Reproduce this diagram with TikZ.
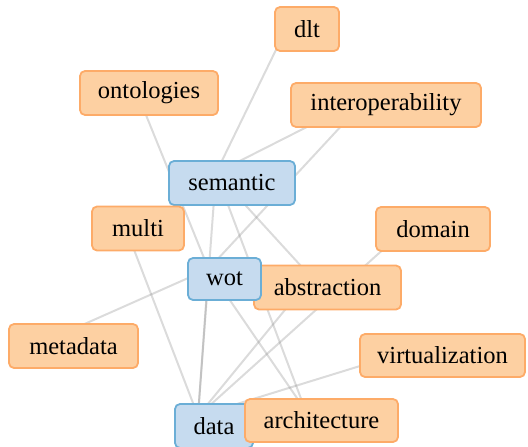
\documentclass[tikz,border=0pt]{standalone}
\usepackage{fontspec}
\setmainfont{Liberation Serif}
\usetikzlibrary{calc}
\pgfdeclarelayer{bg}
\pgfsetlayers{bg,main}

\definecolor{termfill}{RGB}{253,208,162}
\definecolor{termline}{RGB}{253,171,104}
\definecolor{hubfill}{RGB}{198,219,239}
\definecolor{hubline}{RGB}{107,174,214}
\definecolor{linkgray}{RGB}{136,136,136}

\tikzset{
  box/.style={rounded corners=5pt, line width=1.8pt, inner sep=0pt,
    minimum height=44pt, text=black,
    font=\fontsize{24.5}{29}\selectfont},
  termbox/.style={box, fill=termfill, draw=termline},
  hubbox/.style={box, fill=hubfill, draw=hubline},
  link/.style={draw=linkgray, line width=2pt, opacity=0.3}
}

\begin{document}
\begin{tikzpicture}[x=1pt, y=-1pt]
  \useasboundingbox (0,0) rectangle (528,447);

  % labels (later ones are drawn over earlier ones)
  \node[termbox, minimum width=64pt]  (dlt)            at (307,29)    {dlt};
  \node[termbox, minimum width=138pt] (ontologies)     at (149,93)    {ontologies};
  \node[termbox, minimum width=190pt] (interoperability) at (386,105) {interoperability};
  \node[hubbox,  minimum width=126pt] (semantic)       at (232,183)   {semantic};
  \node[termbox, minimum width=92pt]  (multi)          at (138,228.5) {multi};
  \node[termbox, minimum width=114pt] (domain)         at (433,229)   {domain};
  \node[termbox, minimum width=147pt] (abstraction)    at (327.5,287.5) {abstraction};
  \node[hubbox,  minimum width=73pt, minimum height=42pt] (wot) at (224.5,279) {wot};
  \node[termbox, minimum width=129pt] (metadata)       at (73.5,346)  {metadata};
  \node[termbox, minimum width=165pt, minimum height=43pt] (virtualization) at (442.5,355.5) {virtualization};
  \node[hubbox,  minimum width=78pt]  (data)           at (214,426)   {data};
  \node[termbox, minimum width=153pt, minimum height=43pt] (architecture) at (321.5,420.5) {architecture};

  % each label sits a little below and right of its graph point
  \foreach \n in {dlt,ontologies,interoperability,semantic,multi,domain,
                  abstraction,wot,metadata,virtualization,data,architecture}
    \coordinate (\n-p) at ([shift={(-16pt,10pt)}]\n.center);

  \begin{pgfonlayer}{bg}
    \draw[link] (dlt-p) -- (semantic-p);
    \draw[link] (interoperability-p) -- (semantic-p);
    \draw[link] (interoperability-p) -- (wot-p);
    \draw[link] (ontologies-p) -- (wot-p);
    \draw[link] (semantic-p) -- (data-p);
    \draw[link] (semantic-p) -- (architecture-p);
    \draw[link] (semantic-p) -- (abstraction-p);
    \draw[link] (metadata-p) -- (wot-p);
    \draw[link] (multi-p) -- (data-p);
    \draw[link] (wot-p) -- (data-p);
    \draw[link] (wot-p) -- (architecture-p);
    \draw[link] (abstraction-p) -- (data-p);
    \draw[link] (domain-p) -- (data-p);
    \draw[link] (virtualization-p) -- (data-p);
  \end{pgfonlayer}
\end{tikzpicture}
\end{document}
